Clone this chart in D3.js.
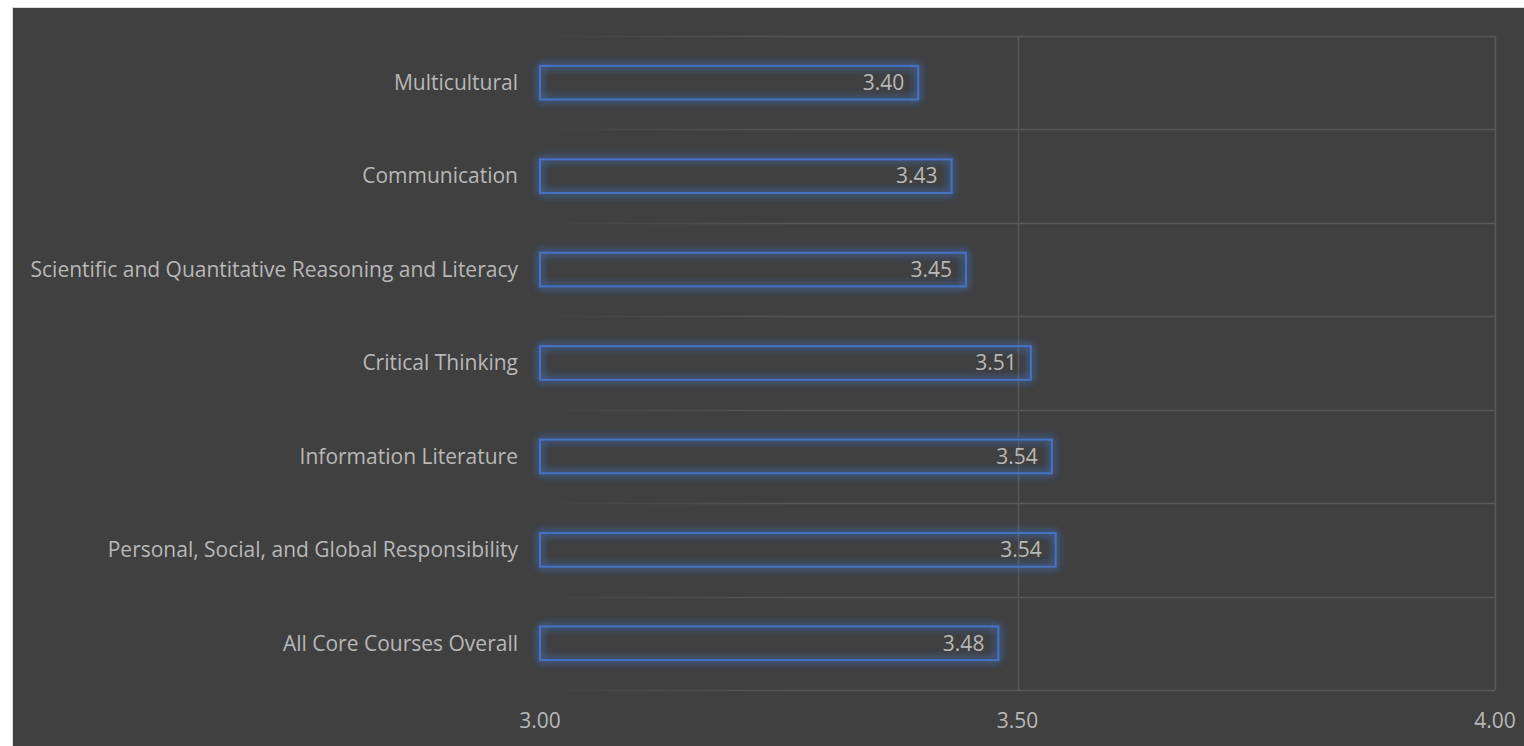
<!DOCTYPE html>
<html><head><meta charset="utf-8">
<script src="https://cdn.jsdelivr.net/npm/d3@7"></script>
<style>html,body{margin:0;padding:0;background:#fff;overflow:hidden}</style>
</head><body>
<svg id="c" width="1524" height="746"></svg>
<script>
const categories = ["Multicultural","Communication","Scientific and Quantitative Reasoning and Literacy","Critical Thinking","Information Literature","Personal, Social, and Global Responsibility","All Core Courses Overall"];
const values = [3.396, 3.431, 3.446, 3.514, 3.536, 3.540, 3.480];
const xTicks = [3.0, 3.5, 4.0];

const svg = d3.select("#c");
const W = 1524, H = 746;
svg.append("rect").attr("x",13).attr("y",8).attr("width",W-13).attr("height",H-8).attr("fill","#404040");
svg.append("line").attr("x1",12.5).attr("x2",12.5).attr("y1",7).attr("y2",H).attr("stroke","#d9d9d9");
svg.append("line").attr("x1",12).attr("x2",W).attr("y1",7.5).attr("y2",7.5).attr("stroke","#d9d9d9");

const defs = svg.append("defs");
const f = defs.append("filter").attr("id","glow").attr("x","-10%").attr("y","-60%").attr("width","120%").attr("height","220%");
f.append("feGaussianBlur").attr("in","SourceGraphic").attr("stdDeviation",4).attr("result","b");
const m = f.append("feMerge");
m.append("feMergeNode").attr("in","b");
m.append("feMergeNode").attr("in","b");
m.append("feMergeNode").attr("in","SourceGraphic");
const g1 = defs.append("linearGradient").attr("id","fade").attr("gradientUnits","userSpaceOnUse").attr("x1",540).attr("x2",820).attr("y1",0).attr("y2",0);
g1.append("stop").attr("offset",0).attr("stop-color","#595959").attr("stop-opacity",0);
g1.append("stop").attr("offset",1).attr("stop-color","#595959").attr("stop-opacity",1);

const x = d3.scaleLinear().domain([3,4]).range([540,1495]);
const y = d3.scaleBand().domain(categories).range([36,690]).paddingInner(0.64).paddingOuter(0.32);
const yb = d3.scaleBand().domain(categories).range([36,690]);

const bounds = categories.map(c=>yb(c)).concat([690]);
svg.append("g").selectAll("line").data(bounds).join("line")
  .attr("x1",540).attr("x2",1495).attr("y1",d=>Math.round(d)+0.5).attr("y2",d=>Math.round(d)+0.5)
  .attr("stroke","url(#fade)").attr("stroke-width",1.5);
svg.append("g").selectAll("line").data(xTicks.slice(1)).join("line")
  .attr("x1",d=>Math.round(x(d))+0.5).attr("x2",d=>Math.round(x(d))+0.5).attr("y1",36).attr("y2",690)
  .attr("stroke","#595959").attr("stroke-width",1.5);

const font = "'Open Sans', sans-serif";
const fs = 21;
const tc = "#b8b8b8";
svg.append("g").selectAll("rect").data(values).join("rect")
  .attr("x",x(3)).attr("y",(d,i)=>y(categories[i]))
  .attr("width",d=>x(d)-x(3)).attr("height",y.bandwidth())
  .attr("fill","none").attr("stroke","#4472C4").attr("stroke-width",2).attr("filter","url(#glow)");
svg.append("g").selectAll("text").data(values).join("text")
  .attr("x",d=>x(d)-14).attr("y",(d,i)=>y(categories[i])+y.bandwidth()/2)
  .attr("dy","0.35em").attr("text-anchor","end")
  .attr("fill",tc).attr("font-family",font).attr("font-size",fs)
  .text(d=>d3.format(".2f")(d));
svg.append("g").selectAll("text").data(categories).join("text")
  .attr("x",518).attr("y",d=>yb(d)+yb.bandwidth()/2)
  .attr("dy","0.35em").attr("text-anchor","end")
  .attr("fill",tc).attr("font-family",font).attr("font-size",fs)
  .text(d=>d);
svg.append("g").selectAll("text").data(xTicks).join("text")
  .attr("x",d=>x(d)).attr("y",721).attr("dy","0.35em").attr("text-anchor","middle")
  .attr("fill",tc).attr("font-family",font).attr("font-size",fs)
  .text(d=>d3.format(".2f")(d));
</script>
</body></html>
